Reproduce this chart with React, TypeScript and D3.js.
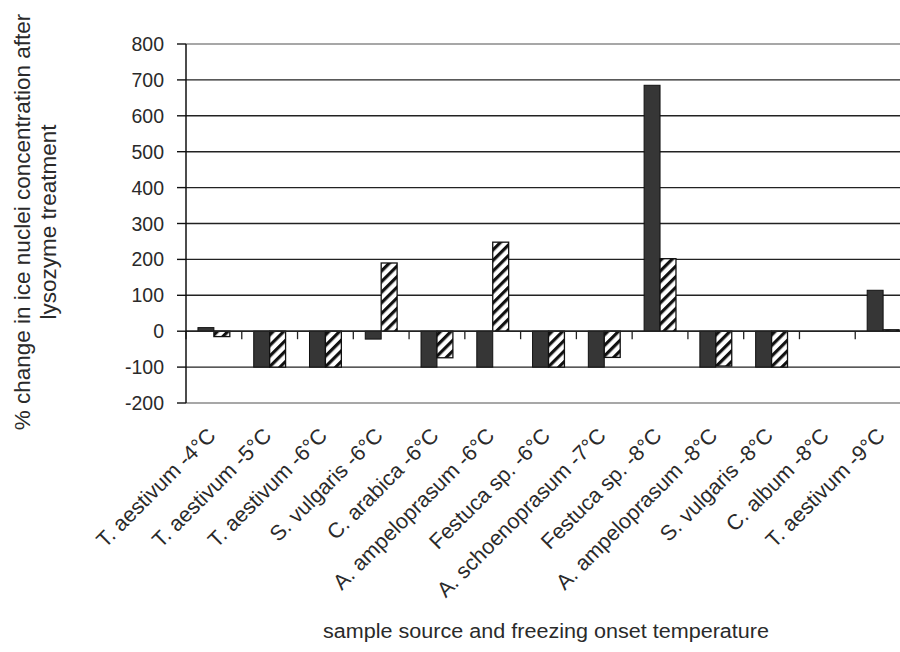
import * as d3 from "d3";

// values
const categories = [
  "T. aestivum -4°C",
  "T. aestivum -5°C",
  "T. aestivum -6°C",
  "S. vulgaris -6°C",
  "C. arabica -6°C",
  "A. ampeloprasum -6°C",
  "Festuca sp. -6°C",
  "A. schoenoprasum -7°C",
  "Festuca sp. -8°C",
  "A. ampeloprasum -8°C",
  "S. vulgaris -8°C",
  "C. album -8°C",
  "T. aestivum -9°C",
];
const solidValues = [10, -100, -100, -22, -100, -100, -100, -100, 685, -100, -100, 0, 114];
const hatchedValues = [-15, -100, -100, 190, -74, 248, -100, -73, 202, -97, -100, 0, 4];
const seriesKeys = ["solid", "hatched"];
const yTicks = [-200, -100, 0, 100, 200, 300, 400, 500, 600, 700, 800];

const yTitleLines = ["% change in ice nuclei concentration after", "lysozyme treatment"];
const xTitle = "sample source and freezing onset temperature";

// plot area; the right border runs past the edge of the picture
const margin = { left: 186, right: 911, top: 44, bottom: 403 };
const font = "'Liberation Sans', Arial, sans-serif";
const textColor = "#2a2a2a";

export default function App() {
  const x0 = d3.scaleBand<string>().domain(categories).range([margin.left, margin.right]).padding(0);
  const x1 = d3
    .scaleBand<string>()
    .domain(seriesKeys)
    .range([0, x0.bandwidth()])
    .paddingInner(0)
    .paddingOuter(0.75); // excel style gap, 150% of a bar
  const y = d3.scaleLinear().domain([-200, 800]).range([margin.bottom, margin.top]);

  const rows = categories.map((c, i) => ({ c, solid: solidValues[i], hatched: hatchedValues[i] }));
  const boundaries = categories.map((c) => x0(c)!).concat([margin.right]);

  return (
    <svg
      width={900}
      height={652}
      viewBox="0 0 900 652"
      style={{ position: "absolute", left: 0, top: 0, background: "#fff" }}
      fontFamily={font}
    >
      <defs>
        <pattern id="hatch" patternUnits="userSpaceOnUse" width={7.5} height={7.5} patternTransform="rotate(45)">
          <rect width={7.5} height={7.5} fill="#fff" />
          <rect width={3.2} height={7.5} fill="#111" />
        </pattern>
      </defs>

      {/* gridlines, top and bottom ones are the grey plot border */}
      {yTicks.map((t) => (
        <line
          key={t}
          x1={margin.left}
          x2={margin.right}
          y1={y(t)}
          y2={y(t)}
          stroke={t === 800 || t === -200 ? "#8a8a8a" : "#222"}
          strokeWidth={1.4}
        />
      ))}

      {/* bars */}
      {rows.map((r) => (
        <g key={r.c} transform={`translate(${x0(r.c)},0)`}>
          {r.solid !== 0 && (
            <rect
              x={x1("solid")}
              width={x1.bandwidth()}
              y={y(Math.max(0, r.solid))}
              height={Math.abs(y(r.solid) - y(0))}
              fill="#363636"
              stroke="#111"
              strokeWidth={1}
            />
          )}
          {r.hatched !== 0 && (
            <rect
              x={x1("hatched")}
              width={x1.bandwidth()}
              y={y(Math.max(0, r.hatched))}
              height={Math.abs(y(r.hatched) - y(0))}
              fill="url(#hatch)"
              stroke="#111"
              strokeWidth={1.3}
            />
          )}
        </g>
      ))}

      {/* category axis crosses at zero */}
      <line x1={margin.left} x2={margin.right} y1={y(0)} y2={y(0)} stroke="#222" strokeWidth={1.4} />
      {boundaries.map((b, i) => (
        <line key={i} x1={b} x2={b} y1={y(0)} y2={y(0) + 8} stroke="#222" strokeWidth={1.3} />
      ))}

      {/* value axis */}
      <line x1={margin.left} x2={margin.left} y1={margin.top} y2={margin.bottom} stroke="#111" strokeWidth={1.5} />
      {yTicks.map((t) => (
        <g key={t}>
          <line x1={margin.left - 9} x2={margin.left} y1={y(t)} y2={y(t)} stroke="#111" strokeWidth={1.4} />
          <text x={164} y={y(t)} dy="0.36em" textAnchor="end" fontSize={19.5} fill={textColor}>
            {t}
          </text>
        </g>
      ))}

      {/* category labels */}
      {categories.map((c) => {
        const cx = x0(c)! + x0.bandwidth() / 2 + 3;
        return (
          <text
            key={c}
            transform={`translate(${cx},437) rotate(-45)`}
            textAnchor="end"
            fontSize={21.5}
            fill={textColor}
          >
            {c}
          </text>
        );
      })}

      {/* titles */}
      {yTitleLines.map((line, i) => (
        <text
          key={line}
          transform={`translate(${30 + i * 26},222) rotate(-90)`}
          textAnchor="middle"
          fontSize={22.5}
          fill={textColor}
        >
          {line}
        </text>
      ))}
      <text
        x={546}
        y={638}
        textAnchor="middle"
        fontSize={20}
        textLength={446}
        lengthAdjust="spacingAndGlyphs"
        fill={textColor}
      >
        {xTitle}
      </text>
    </svg>
  );
}
